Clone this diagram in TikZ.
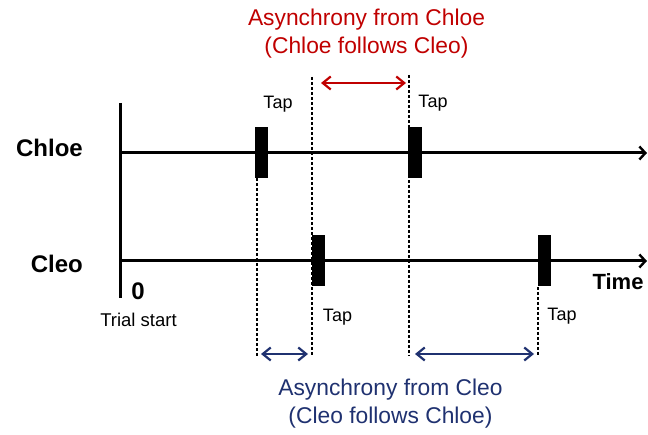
\documentclass[tikz,border=0pt]{standalone}
\usepackage{fontspec}
\setmainfont{Liberation Sans}
\usetikzlibrary{arrows.meta}
\definecolor{myred}{HTML}{C00000}
\definecolor{myblue}{HTML}{1F3170}
\begin{document}
\begin{tikzpicture}[x=1pt,y=-1pt,
  axisline/.style={line width=3pt},
  timeline/.style={line width=3pt,-{Straight Barb[length=6pt,width=13pt,line width=2.4pt]}},
  tapbar/.style={fill=black,draw=none,minimum width=13.5pt,minimum height=51pt,inner sep=0pt},
  guide/.style={line width=1.1pt,dash pattern=on 3pt off 2pt},
  redarrow/.style={myred,line width=2.2pt,{Straight Barb[length=8pt,width=13pt]}-{Straight Barb[length=8pt,width=13pt]}},
  bluearrow/.style={myblue,line width=2.2pt,{Straight Barb[length=8pt,width=13pt]}-{Straight Barb[length=8pt,width=13pt]}},
  taplabel/.style={font=\fontsize{18}{20}\selectfont,inner sep=0pt},
  namelabel/.style={font=\fontsize{24}{28}\selectfont\bfseries,inner sep=0pt},
  caption/.style={font=\fontsize{22.8}{28}\selectfont,inner sep=0pt,align=center}]
\useasboundingbox (0,0) rectangle (648,435);

% axis and timelines
\coordinate (axtop) at (120,103);
\coordinate (axbot) at (120,298);
\coordinate (chS) at (120,153);
\coordinate (chE) at (647,153);
\coordinate (clS) at (120,261);
\coordinate (clE) at (647,261);
\draw[axisline] (axtop) -- (axbot);
\draw[timeline] (chS) -- (chE);
\draw[timeline] (clS) -- (clE);

% dashed guides
\coordinate (d1a) at (257,178);  \coordinate (d1b) at (257,356);
\coordinate (d2a) at (312,77);   \coordinate (d2b) at (312,356);
\coordinate (d3a) at (409,75);   \coordinate (d3b) at (409,356);
\coordinate (d4a) at (538,287);  \coordinate (d4b) at (538,356);
\draw[guide] (d1a) -- (d1b);
\draw[guide] (d2a) -- (d2b);
\draw[guide] (d3a) -- (d3b);
\draw[guide] (d4a) -- (d4b);

% tap bars
\node[tapbar] (b1) at (261.5,152.5) {};
\node[tapbar] (b2) at (415,152.5) {};
\node[tapbar] (b3) at (318.4,261) {};
\node[tapbar] (b4) at (544.5,261) {};

% asynchrony arrows
\coordinate (r1) at (321,83);  \coordinate (r2) at (406,83);
\draw[redarrow] (r1) -- (r2);
\coordinate (u1) at (261,354); \coordinate (u2) at (308,354);
\draw[bluearrow] (u1) -- (u2);
\coordinate (v1) at (415,354); \coordinate (v2) at (534,354);
\draw[bluearrow] (v1) -- (v2);

% labels
\node[taplabel] (t1) at (278,104) {Tap};
\node[taplabel] (t2) at (433,103) {Tap};
\node[taplabel] (t3) at (337.5,317) {Tap};
\node[taplabel] (t4) at (562,316) {Tap};
\node[namelabel,anchor=east] (chloe) at (83,148) {Chloe};
\node[namelabel,anchor=east] (cleo) at (83,264) {Cleo};
\node[namelabel,font=\fontsize{22}{26}\selectfont\bfseries] (time) at (618,282) {Time};
\node[namelabel] (zero) at (138,291.5) {0};
\node[taplabel,font=\fontsize{18.5}{20}\selectfont] (trial) at (138.5,320) {Trial start};
\node[caption,text=myred] (redcap) at (366.5,34) {Asynchrony from Chloe\\(Chloe follows Cleo)};
\node[caption,text=myblue] (bluecap) at (390.5,404) {Asynchrony from Cleo\\(Cleo follows Chloe)};
\end{tikzpicture}
\end{document}
